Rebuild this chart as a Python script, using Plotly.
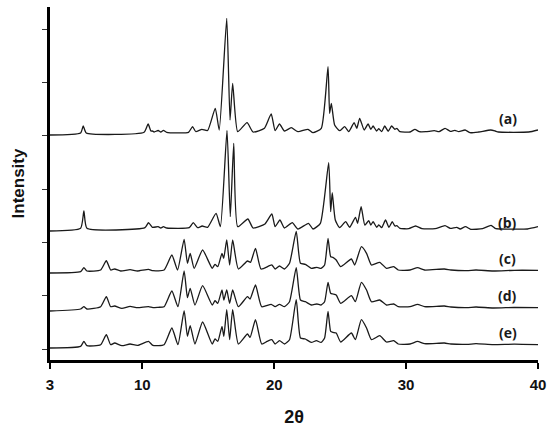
import plotly.graph_objects as go

# 2-theta / intensity pairs (intensity above each pattern's own baseline)
theta_a = [3.0, 5.32, 5.52, 5.75, 10.13, 10.44, 10.65, 10.76, 10.9, 11.2, 11.4, 11.6, 11.85,
           13.5, 13.81, 14.05, 14.52, 14.95, 15.53, 15.83, 16.4, 16.65, 16.85, 17.23, 17.94, 18.4,
           19.26, 19.77, 20.07, 20.4, 20.78, 21.29, 21.8, 22.56, 22.94, 23.57, 24.08, 24.2, 24.33,
           24.58, 24.96, 25.34, 25.65, 26.06, 26.26, 26.48, 26.82, 27.12, 27.32, 27.5, 27.76, 27.93,
           28.15, 28.38, 28.64, 28.9, 29.15, 29.3, 29.53, 30.3, 30.67, 31.0, 31.5, 32.14, 32.5,
           32.95, 33.35, 33.7, 34.0, 34.47, 34.85, 35.5, 36.42, 36.75, 37.0, 39.3, 40.0]
int_a = [0, 2, 9, 2, 2.7, 11, 4, 4, 3, 4.5, 3, 4.7, 2.7,
         2.7, 8.3, 3.5, 5.7, 4.5, 26.7, 5, 116.7, 15, 51.7, 3.3, 12.3, 3,
         6.7, 21, 4.3, 11, 4, 7.3, 3.3, 5.7, 2.3, 6.7, 68.3, 21.7, 31.7,
         10, 4.3, 8.3, 3.3, 12.3, 6.7, 16.7, 5, 11, 5.7, 9, 4, 6.3,
         3.3, 9, 3.7, 9, 5.7, 6.7, 3.3, 3, 5.7, 3.3, 3.3, 4.3, 3.3,
         6.7, 3.7, 4.7, 3.3, 5, 2.3, 3, 5, 4, 3, 3, 5]

theta_b = [3.0, 5.32, 5.57, 5.8, 10.2, 10.47, 10.76, 11.2, 11.4, 11.6, 11.85, 13.56, 13.86,
           14.19, 14.54, 14.95, 15.59, 15.92, 16.42, 16.67, 16.93, 17.23, 18.0, 18.4, 19.3, 19.82,
           20.07, 20.43, 20.78, 21.37, 21.8, 22.6, 22.94, 23.5, 24.13, 24.28, 24.4, 24.63, 24.96,
           25.42, 25.72, 26.16, 26.32, 26.59, 26.87, 27.17, 27.32, 27.5, 27.77, 27.93, 28.15, 28.44,
           28.7, 28.95, 29.15, 29.3, 29.53, 30.2, 30.72, 31.2, 32.2, 32.95, 33.35, 33.84, 34.1,
           34.5, 34.9, 35.8, 36.44, 36.75, 37.2, 39.2, 40.0]
int_b = [0, 2.7, 20, 2.7, 3.3, 8.3, 3.7, 4.3, 3, 4.3, 3, 3.3, 8.3,
         3.3, 5, 3.7, 17.7, 4.3, 100.5, 14.3, 87.7, 4.3, 12, 3, 7, 17,
         4.3, 11, 3, 8.3, 2, 7.7, 2, 7.7, 68.3, 19.3, 38.3, 11, 3.3,
         9.3, 3.7, 13.7, 7.7, 24.3, 6, 10.3, 6, 9.3, 3.7, 6, 3.3, 11,
         3.7, 9.3, 5, 5.3, 2.7, 2.3, 5, 2.3, 2.3, 5.3, 2.7, 3.7, 2,
         4.3, 1.7, 2.3, 5.7, 2.7, 2, 2, 4.3]

theta_c = [3.0, 5.32, 5.57, 5.8, 6.84, 7.27, 7.6, 7.9, 8.36, 9.07, 9.63, 10.47, 10.8, 11.65,
           12.24, 12.67, 13.17, 13.42, 13.63, 13.93, 14.57, 15.3, 15.51, 15.72, 16.04, 16.17, 16.4,
           16.62, 16.85, 17.28, 17.97, 18.2, 18.58, 19.0, 19.82, 20.07, 20.4, 20.78, 21.16, 21.67,
           21.99, 22.36, 22.81, 23.24, 23.55, 23.82, 24.08, 24.28, 24.45, 24.7, 25.04, 25.85, 26.1,
           26.61, 27.0, 27.37, 28.0, 28.51, 29.06, 29.4, 30.3, 30.87, 31.4, 32.9, 33.4, 34.6,
           35.3, 36.6, 38.2, 40.0]
int_c = [0, 1.3, 5.3, 2, 3, 12.3, 3, 4, 2, 3.3, 2, 3.7, 2.3, 3,
         18, 3, 33.7, 9.7, 19.7, 4.7, 23, 4.7, 8.7, 6.3, 19.7, 14.7, 33,
         8, 33, 4, 12, 10.7, 24.7, 4, 8, 4, 7, 4, 9.7, 41.5,
         9.7, 8.7, 4.7, 5.7, 4.7, 8, 34.7, 16.3, 15.7, 13, 6.3, 14, 8,
         26.3, 19.7, 8, 10.7, 4.7, 6.3, 3, 3, 5.3, 3, 4, 3, 2.3,
         3, 2, 2.7, 2.7]

theta_d = [3.0, 5.32, 5.57, 5.8, 6.84, 7.27, 7.6, 7.9, 8.45, 9.07, 9.63, 10.47, 10.8, 11.2, 11.65,
           12.24, 12.7, 13.17, 13.42, 13.63, 13.99, 14.57, 15.3, 15.51, 15.72, 16.04, 16.18, 16.4,
           16.62, 16.85, 17.28, 17.97, 18.17, 18.58, 19.05, 19.77, 20.07, 20.4, 20.78, 21.16, 21.67,
           21.99, 22.36, 22.81, 23.24, 23.55, 23.82, 24.08, 24.28, 24.45, 24.7, 25.04, 25.85, 26.15,
           26.61, 27.0, 27.37, 28.0, 28.51, 29.06, 29.4, 30.3, 30.87, 31.4, 32.9, 33.4, 34.6,
           35.3, 36.6, 38.2, 40.0]
int_d = [0, 2, 4.3, 2, 4.3, 14.3, 4.3, 5, 2.7, 4.7, 3.3, 4.3, 3.3, 3.7, 4.3,
         20, 4.3, 40, 13.3, 22.7, 6, 25.3, 6, 10.3, 7.7, 21, 11, 21,
         7.7, 21, 4.3, 14.3, 12, 26, 4.3, 6.7, 4.3, 6.7, 4.3, 9.3, 43.3,
         11, 9.3, 6, 7, 6, 9.3, 28.7, 17.7, 17, 16, 7.7, 15.3, 9.3,
         28.7, 21, 9.3, 11, 6, 7, 4.3, 4.3, 6.7, 4.3, 5, 4, 3.3,
         4, 3, 3.5, 3.3]

theta_e = [3.0, 5.32, 5.57, 5.8, 6.84, 7.27, 7.6, 7.9, 8.45, 9.07, 9.63, 10.47, 10.8, 11.65,
           12.24, 12.7, 13.17, 13.42, 13.63, 13.99, 14.57, 15.3, 15.51, 15.72, 16.04, 16.18, 16.4,
           16.62, 16.85, 17.28, 17.97, 18.17, 18.58, 19.05, 19.46, 19.82, 20.07, 20.4, 20.78, 21.16,
           21.67, 21.99, 22.36, 22.81, 23.2, 23.55, 23.82, 24.08, 24.28, 24.45, 24.7, 25.04, 25.85,
           26.15, 26.61, 27.0, 27.37, 28.0, 28.51, 29.06, 29.4, 30.3, 30.87, 31.4, 32.9, 33.4,
           34.6, 35.3, 36.6, 38.2, 40.0]
int_e = [0, 1.6, 6.6, 2.3, 3.3, 13.3, 3.3, 5, 2.3, 4, 2.6, 6.6, 2.6, 3.3,
         20, 3.3, 37.3, 11.6, 22.3, 4, 26, 4, 9, 6.6, 21.6, 11.6, 38.3,
         8.3, 38.3, 4, 14, 10.6, 28.3, 4, 6.6, 8.3, 4, 7.3, 4, 8.3,
         48.3, 10, 9, 5.6, 7.3, 5.6, 10, 36.6, 16.6, 15.6, 15, 6, 15,
         8.3, 28.3, 20, 8.3, 12.3, 6, 7.3, 4, 4, 6.6, 4.3, 5, 4,
         3.6, 4.3, 3.3, 3.8, 3.3]

labels = ["(a)", "(b)", "(c)", "(d)", "(e)"]
x_ticks = [3, 10, 20, 30, 40]

patterns = [(theta_a, int_a), (theta_b, int_b), (theta_c, int_c), (theta_d, int_d), (theta_e, int_e)]
offsets = [225, 129, 87, 49, 12]
label_y = [242, 138, 102, 65, 28]

fig = go.Figure()
for (tx, ty), off in zip(patterns, offsets):
    fig.add_trace(go.Scatter(
        x=tx,
        y=[v + off for v in ty],
        mode='lines',
        line=dict(color='#1a1a1a', width=1.3, shape='spline', smoothing=0.5),
        hoverinfo='skip',
        showlegend=False
    ))

for lab, ly in zip(labels, label_y):
    fig.add_annotation(text=lab, x=37.7, y=ly, showarrow=False,
                       font=dict(family="Open Sans, Noto Sans, sans-serif", size=14,
                                 color="#1a1a1a", weight='bold'))

fig.update_layout(
    width=550,
    height=428,
    plot_bgcolor='white',
    paper_bgcolor='white',
    margin=dict(l=50, r=12, t=7, b=68),
    font=dict(family="Liberation Sans, Arial, sans-serif", color='#111111'),
    xaxis=dict(
        range=[3, 40],
        tickvals=x_ticks,
        ticks='outside',
        ticklen=6,
        tickwidth=1.5,
        tickcolor='black',
        ticklabelstandoff=3,
        showline=True,
        linewidth=2.5,
        linecolor='black',
        showgrid=False,
        zeroline=False,
        automargin=False,
        tickfont=dict(size=15, weight='bold'),
        title=dict(text='2θ', font=dict(size=18, weight='bold'), standoff=19),
    ),
    yaxis=dict(
        range=[0, 353],
        tick0=11,
        dtick=53.33,
        ticks='outside',
        ticklen=5,
        tickwidth=1,
        tickcolor='#333333',
        showticklabels=False,
        showline=True,
        linewidth=2.5,
        linecolor='black',
        showgrid=False,
        zeroline=False,
        automargin=False,
        title=dict(text='Intensity', font=dict(size=17, weight='bold'), standoff=14),
    ),
    dragmode=False,
)

# drop the browser's default page margin so the figure sits at the window's corner
fig.write_html("out.html", config={'displayModeBar': False},
               post_script="document.body.style.margin='0';")
